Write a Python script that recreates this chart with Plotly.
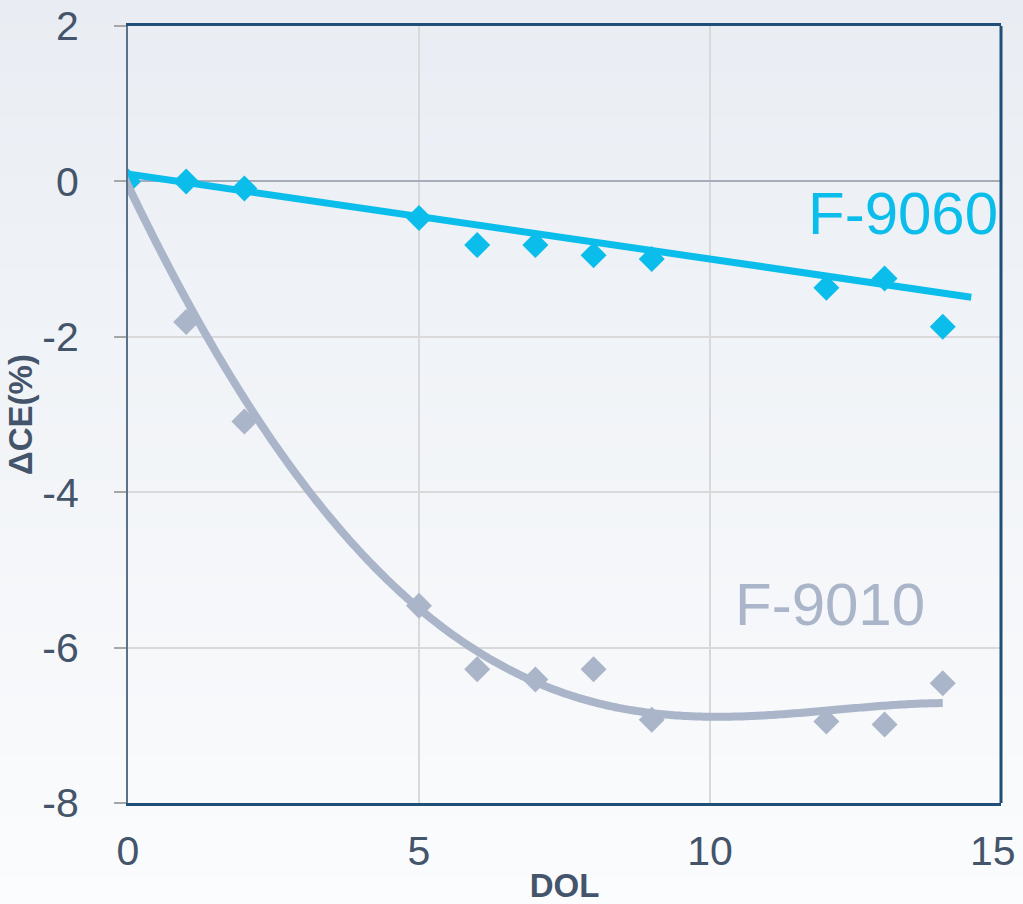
import numpy as np
import plotly.graph_objects as go

# ---- data ----
dol = [0, 1, 2, 5, 6, 7, 8, 9, 12, 13, 14]
ce_f9060 = [0.0, 0.0, -0.09, -0.47, -0.82, -0.82, -0.95, -1.0, -1.37, -1.25, -1.87]
ce_f9010 = [0.0, -1.81, -3.09, -5.46, -6.28, -6.41, -6.28, -6.93, -6.95, -6.99, -6.46]

# trend lines as drawn in the reference (read points)
trend_f9060_x = [-0.23, 14.49]
trend_f9060_y = [0.12, -1.49]
trend_f9010_x = [-0.12, 1.245, 2.27, 3.07, 5, 6, 7, 9, 10.5, 12, 14]
trend_f9010_y = [0.12, -1.81, -3.09, -4.0, -5.49, -6.07, -6.41, -6.84, -6.89, -6.82, -6.71]

x_ticks = [0, 5, 10, 15]
x_ticktext = ["0", "5", "10", "15"]
y_ticks = [2, 0, -2, -4, -6, -8]
y_ticktext = ["2", "0", "-2", "-4", "-6", "-8"]

labels = ["F-9060", "F-9010"]
label_pos_x = [13.31, 12.06]
label_pos_y = [-0.41, -5.44]

BLUE = "#0BBDEB"
GRAY = "#AAB5C9"
TXT = "#44546A"
NAVY = "#1F4E79"
FONT = "Liberation Sans, Arial, sans-serif"

# smooth polynomial trendline through the read trend points
coef = np.polyfit(trend_f9010_x, trend_f9010_y, 4)
tx = np.linspace(min(trend_f9010_x), max(trend_f9010_x), 300)
ty = np.polyval(coef, tx)

fig = go.Figure()

fig.add_trace(go.Scatter(x=dol, y=ce_f9010, mode="markers",
                         marker=dict(symbol="diamond", size=20, color=GRAY),
                         showlegend=False, hoverinfo="skip"))
fig.add_trace(go.Scatter(x=dol, y=ce_f9060, mode="markers",
                         marker=dict(symbol="diamond", size=20, color=BLUE),
                         showlegend=False, hoverinfo="skip"))
fig.add_trace(go.Scatter(x=trend_f9060_x, y=trend_f9060_y, mode="lines",
                         line=dict(color=BLUE, width=7),
                         showlegend=False, hoverinfo="skip", cliponaxis=False))
fig.add_trace(go.Scatter(x=tx, y=ty, mode="lines",
                         line=dict(color=GRAY, width=8, simplify=False),
                         showlegend=False, hoverinfo="skip", cliponaxis=False))

# gradient background bands
shapes = []
top_c = (233, 237, 243)
bot_c = (251, 252, 253)
n = 60
y_lo, y_hi = -0.135, 1.04
for i in range(n):
    t0 = i / n
    t1 = (i + 1) / n
    tc = (i + 0.5) / n
    c = tuple(round(bot_c[k] + (top_c[k] - bot_c[k]) * tc) for k in range(3))
    shapes.append(dict(type="rect", xref="paper", yref="paper",
                       x0=-0.2, x1=1.1,
                       y0=y_lo + (y_hi - y_lo) * t0, y1=y_lo + (y_hi - y_lo) * t1 + 0.002,
                       fillcolor="rgb(%d,%d,%d)" % c, line=dict(width=0), layer="below"))
# right border
shapes.append(dict(type="line", xref="paper", yref="paper", x0=1, x1=1, y0=0, y1=1,
                   line=dict(color=NAVY, width=3), layer="above"))

annotations = []
for txt, ax_, ay_, col in zip(labels, label_pos_x, label_pos_y, [BLUE, GRAY]):
    annotations.append(dict(x=ax_, y=ay_, xref="x", yref="y", text=txt, showarrow=False,
                            xanchor="center", yanchor="middle",
                            font=dict(family=FONT, size=60, color=col)))

# last x tick label drawn as annotation so it stays inside the page (as in the reference)
shown_ticktext = x_ticktext[:-1] + [""]
annotations.append(dict(x=x_ticks[-1], y=0, xref="x", yref="paper", text=x_ticktext[-1],
                        showarrow=False, xanchor="right", yanchor="middle",
                        xshift=17, yshift=-48,
                        font=dict(family=FONT, size=41, color=TXT)))

fig.update_layout(
    width=1023, height=904,
    margin=dict(l=128, r=22, t=26, b=101),
    paper_bgcolor="rgb(251,252,253)",
    plot_bgcolor="rgba(0,0,0,0)",
    shapes=shapes,
    annotations=annotations,
    font=dict(family=FONT, color=TXT),
    xaxis=dict(range=[0, 15.001], tickvals=x_ticks, ticktext=shown_ticktext, ticks="",
               showgrid=True, automargin=False, ticklabeloverflow="allow",
               gridcolor="#D9D9D9", gridwidth=1.5, zeroline=False,
               showline=True, mirror=True, linecolor=NAVY, linewidth=3,
               tickfont=dict(size=41, color=TXT), ticklabelstandoff=10,
               title=dict(text="<b>DOL</b>", font=dict(size=33, color=TXT), standoff=6)),
    yaxis=dict(range=[-8, 2], tickvals=y_ticks, ticktext=y_ticktext, ticks="outside",
               ticklen=12, automargin=False, ticklabeloverflow="allow",
               tickwidth=2, tickcolor="#A6A6A6", showgrid=True,
               gridcolor="#D9D9D9", gridwidth=1.5,
               zeroline=True, zerolinecolor="#A6ADB8", zerolinewidth=2,
               showline=True, linecolor="#5D7089", linewidth=2,
               tickfont=dict(size=41, color=TXT), ticklabelstandoff=27,
               title=dict(text="<b>ΔCE(%)</b>", font=dict(size=33, color=TXT), standoff=0)),
)

fig.write_html("out.html",
               config={"displayModeBar": False},
               post_script="document.body.style.margin='0';document.body.style.overflow='hidden';")
